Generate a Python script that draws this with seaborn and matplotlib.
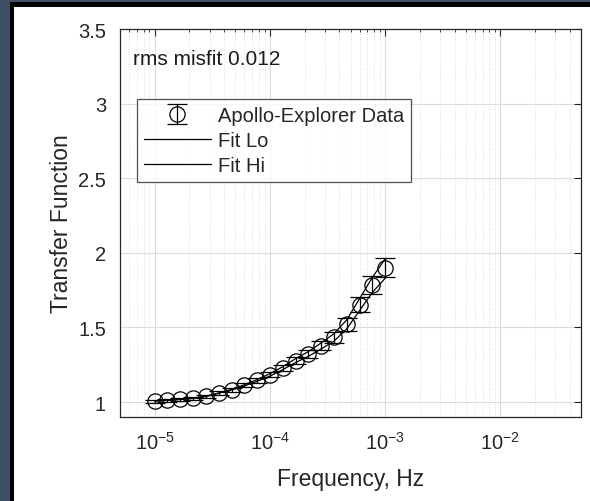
import numpy as np
import pandas as pd
import matplotlib
matplotlib.use("Agg")
import matplotlib.pyplot as plt
import matplotlib.ticker as mticker
from matplotlib.patches import Rectangle
import seaborn as sns

# ---- data ----
freq = [1.00e-5, 1.29e-5, 1.67e-5, 2.15e-5, 2.78e-5, 3.59e-5, 4.64e-5, 5.99e-5, 7.74e-5,
        1.00e-4, 1.29e-4, 1.67e-4, 2.15e-4, 2.78e-4, 3.59e-4, 4.64e-4, 5.99e-4, 7.74e-4,
        1.00e-3]
tf_data = [1.007, 1.012, 1.018, 1.025, 1.038, 1.060, 1.083, 1.112, 1.145,
           1.182, 1.227, 1.278, 1.322, 1.376, 1.433, 1.521, 1.653, 1.785, 1.900]
tf_err = [0.010, 0.010, 0.010, 0.010, 0.011, 0.012, 0.013, 0.014, 0.015,
          0.017, 0.019, 0.022, 0.025, 0.030, 0.036, 0.043, 0.050, 0.058, 0.065]
fit_lo = [1.007, 1.012, 1.018, 1.025, 1.038, 1.059, 1.081, 1.108, 1.139,
          1.174, 1.217, 1.265, 1.306, 1.356, 1.408, 1.491, 1.613, 1.735, 1.830]
fit_hi = [1.007, 1.012, 1.018, 1.025, 1.038, 1.061, 1.085, 1.116, 1.151,
          1.190, 1.237, 1.291, 1.338, 1.396, 1.458, 1.551, 1.693, 1.835, 1.960]
series_labels = ["Apollo-Explorer Data", "Fit Lo", "Fit Hi"]
annotation = "rms misfit 0.012"
x_label = "Frequency, Hz"
y_label = "Transfer Function"
y_ticks = [1, 1.5, 2, 2.5, 3, 3.5]
y_ticklabels = ["1", "1.5", "2", "2.5", "3", "3.5"]

sns.set_theme(style="white")
plt.rcParams['font.family'] = ['Liberation Sans', 'DejaVu Sans']
plt.rcParams['mathtext.default'] = 'regular'
plt.rcParams['axes.unicode_minus'] = False

fig = plt.figure(figsize=(5.9, 5.02), dpi=100)
fig.patch.set_facecolor('#3f4f66')
# frame: black line then white page
fig.patches.append(Rectangle((10/590, 0), 1, 1 - 3/502, transform=fig.transFigure,
                             facecolor='black', edgecolor='none', zorder=-10))
fig.patches.append(Rectangle((14/590, 0), 1, 1 - 8/502, transform=fig.transFigure,
                             facecolor='white', edgecolor='none', zorder=-9))

ax = fig.add_axes([120/590, 1 - 418/502, 461/590, 388/502])
ax.set_facecolor('white')

df = pd.DataFrame({"freq": freq, "lo": fit_lo, "hi": fit_hi})
eb = ax.errorbar(freq, tf_data, yerr=tf_err, fmt='o', mfc='none', mec='black', ms=11,
                 mew=0.9, ecolor='black', elinewidth=0.9, capsize=7, capthick=0.9,
                 color='black', label=series_labels[0], zorder=3)
sns.lineplot(data=df, x="freq", y="lo", ax=ax, color='black', lw=0.9,
             label=series_labels[1], zorder=2)
sns.lineplot(data=df, x="freq", y="hi", ax=ax, color='black', lw=0.9,
             label=series_labels[2], zorder=2)

ax.set_xscale('log')
ax.set_xlim(5e-6, 5e-2)
ax.set_ylim(0.9, 3.5)
ax.set_yticks(y_ticks)
ax.set_yticklabels(y_ticklabels)
ax.xaxis.set_major_locator(mticker.LogLocator(base=10, numticks=10))
ax.xaxis.set_minor_locator(mticker.LogLocator(base=10, subs=np.arange(2, 10), numticks=20))
ax.xaxis.set_minor_formatter(mticker.NullFormatter())

ax.grid(True, which='major', color='#dcdcdc', lw=0.8, ls='-')
ax.grid(True, which='minor', axis='x', color='#d2d2d2', lw=0.6, ls=(0, (1, 2)))
ax.set_axisbelow(True)

ax.tick_params(which='both', direction='in', top=True, right=True,
               colors='#262626', labelcolor='#262626')
ax.tick_params(which='major', length=5, width=0.8, labelsize=14.5)
ax.tick_params(axis='y', which='major', pad=10)
ax.tick_params(axis='x', which='major', pad=10)
ax.tick_params(which='minor', length=2.5, width=0.6)
for s in ax.spines.values():
    s.set_color('#262626')
    s.set_linewidth(0.9)

ax.set_xlabel(x_label, fontsize=16.5, color='#262626', labelpad=10)
ax.set_ylabel(y_label, fontsize=16.5, color='#262626', labelpad=4)

ax.text(0.028, 0.923, annotation, transform=ax.transAxes, fontsize=15,
        color='#1a1a1a', va='center', ha='left')

handles, labels = ax.get_legend_handles_labels()
order = [labels.index(l) for l in series_labels]
leg = ax.legend([handles[i] for i in order], [labels[i] for i in order],
                loc='upper left', bbox_to_anchor=(0.037, 0.8196), borderaxespad=0,
                fontsize=14.5, frameon=True, fancybox=False, handlelength=3.3,
                handletextpad=0.35, labelspacing=0.3, borderpad=0.35)
leg.get_frame().set_edgecolor('#262626')
leg.get_frame().set_linewidth(0.9)

fig.savefig("out.png", dpi=100, facecolor=fig.get_facecolor())
